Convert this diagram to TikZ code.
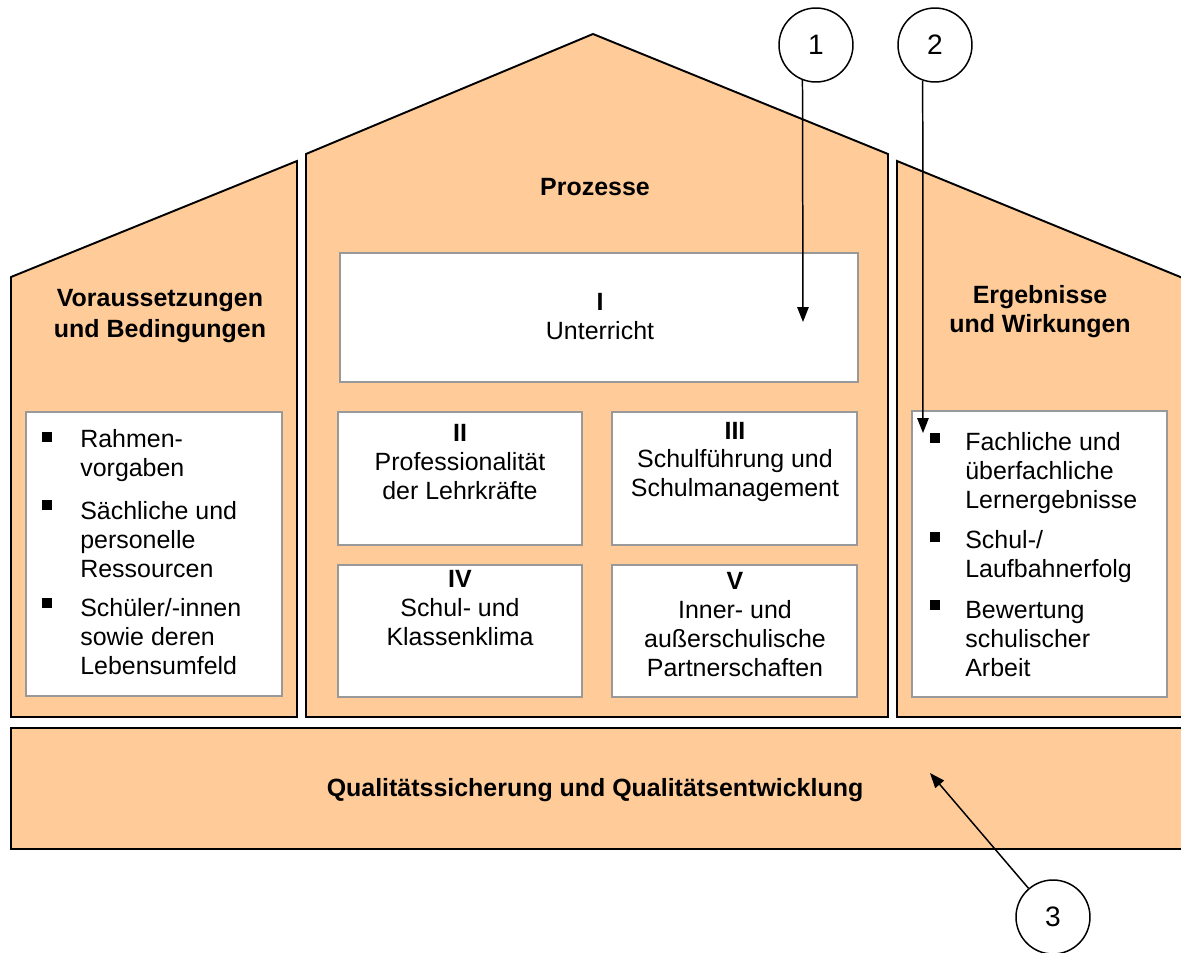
\documentclass[tikz,border=0pt]{standalone}
\usepackage{fontspec}
\setmainfont{Liberation Sans}
\definecolor{housefill}{RGB}{255,204,153}
\definecolor{boxline}{RGB}{153,153,153}
\usetikzlibrary{arrows.meta}

\begin{document}
\begin{tikzpicture}[x=0.02cm, y=-0.02cm,
  part/.style={draw=black, line width=1.1pt, fill=housefill, line join=miter},
  panel/.style={draw=boxline, line width=1.1pt, fill=white},
  txt/.style={font=\fontsize{14.2}{16.5}\selectfont, align=center, inner sep=0},
  listtxt/.style={txt, align=left, anchor=west},
  sq/.style={fill=black, inner sep=0, minimum size=5.2pt},
  num/.style={draw, circle, line width=0.85pt, minimum size=1.48cm, inner sep=0, font=\fontsize{16}{19}\selectfont},
  pointer/.style={-{Triangle[length=8.5pt,width=6.5pt]}, line width=0.85pt}]
  \useasboundingbox (0,0) rectangle (1181,953);

  % House
  \draw[part] (11,717) -- (11,277) -- (297,161) -- (297,717) -- cycle;
  \draw[part] (306,717) -- (306,154) -- (593,34) -- (888,154) -- (888,717) -- cycle;
  \draw[part] (897,717) -- (897,161) -- (1195,283) -- (1195,717) -- cycle;
  \draw[part] (11,728) rectangle (1195,849);

  % Headings
  \node[txt, font=\fontsize{14.2}{17.5}\selectfont\bfseries] (voraus) at (160,316) {Voraussetzungen\\und Bedingungen};
  \node[txt, font=\fontsize{14.2}{16.5}\selectfont\bfseries] (proz) at (595,187) {Prozesse};
  \node[txt, font=\fontsize{14.2}{16.5}\selectfont\bfseries] (ergeb) at (1040,312) {Ergebnisse\\und Wirkungen};
  \node[txt, font=\fontsize{14.2}{16.5}\selectfont\bfseries] (qual) at (595,790) {Qualitätssicherung und Qualitätsentwicklung};

  % Process boxes
  \draw[panel] (340,253) rectangle (858,382);
  \draw[panel] (338,412) rectangle (582,545);
  \draw[panel] (612,412) rectangle (857,545);
  \draw[panel] (338,565) rectangle (582,697);
  \draw[panel] (612,565) rectangle (857,697);
  \node[txt] (pI) at (600,317) {\textbf{I}\\Unterricht};
  \node[txt] (pII) at (460,462) {\textbf{II}\\Professionalität\\der Lehrkräfte};
  \node[txt] (pIII) at (735,462) {\textbf{III}\\Schulführung und\\Schulmanagement};
  \node[txt] (pIV) at (460,608) {\textbf{IV}\\Schul- und\\Klassenklima};
  \node[txt] (pV) at (735,625) {\textbf{V}\\Inner- und\\außerschulische\\Partnerschaften};

  % Lists
  \draw[panel] (26,412) rectangle (282,696);
  \node[sq] (lb1) at (47,437) {};
  \node[listtxt] (li1) at (80,456) {Rahmen-\\vorgaben};
  \node[sq] (lb2) at (47,505) {};
  \node[listtxt] (li2) at (80,540) {Sächliche und\\personelle\\Ressourcen};
  \node[sq] (lb3) at (47,603) {};
  \node[listtxt] (li3) at (80,637) {Schüler/-innen\\sowie deren\\Lebensumfeld};

  \draw[panel] (912,411) rectangle (1167,697);
  \node[sq] (rb1) at (935,438) {};
  \node[listtxt] (ri1) at (965,473) {Fachliche und\\überfachliche\\Lernergebnisse};
  \node[sq] (rb2) at (935,537) {};
  \node[listtxt] (ri2) at (965,557) {Schul-/\\Laufbahnerfolg};
  \node[sq] (rb3) at (935,605) {};
  \node[listtxt] (ri3) at (965,639) {Bewertung\\schulischer\\Arbeit};

  % Markers
  \node[num, fill=white] (c1) at (816,45) {1};
  \node[num, fill=white] (c2) at (935,45) {2};
  \node[num, fill=white] (c3) at (1053,917) {3};
  \coordinate (t1) at (803,322);
  \coordinate (t2) at (923,433);
  \coordinate (t3) at (930,773);
  \draw[pointer] (c1.249) -- (t1);
  \draw[pointer] (c2.251) -- (t2);
  \draw[pointer] (c3) -- (t3);
\end{tikzpicture}
\end{document}
